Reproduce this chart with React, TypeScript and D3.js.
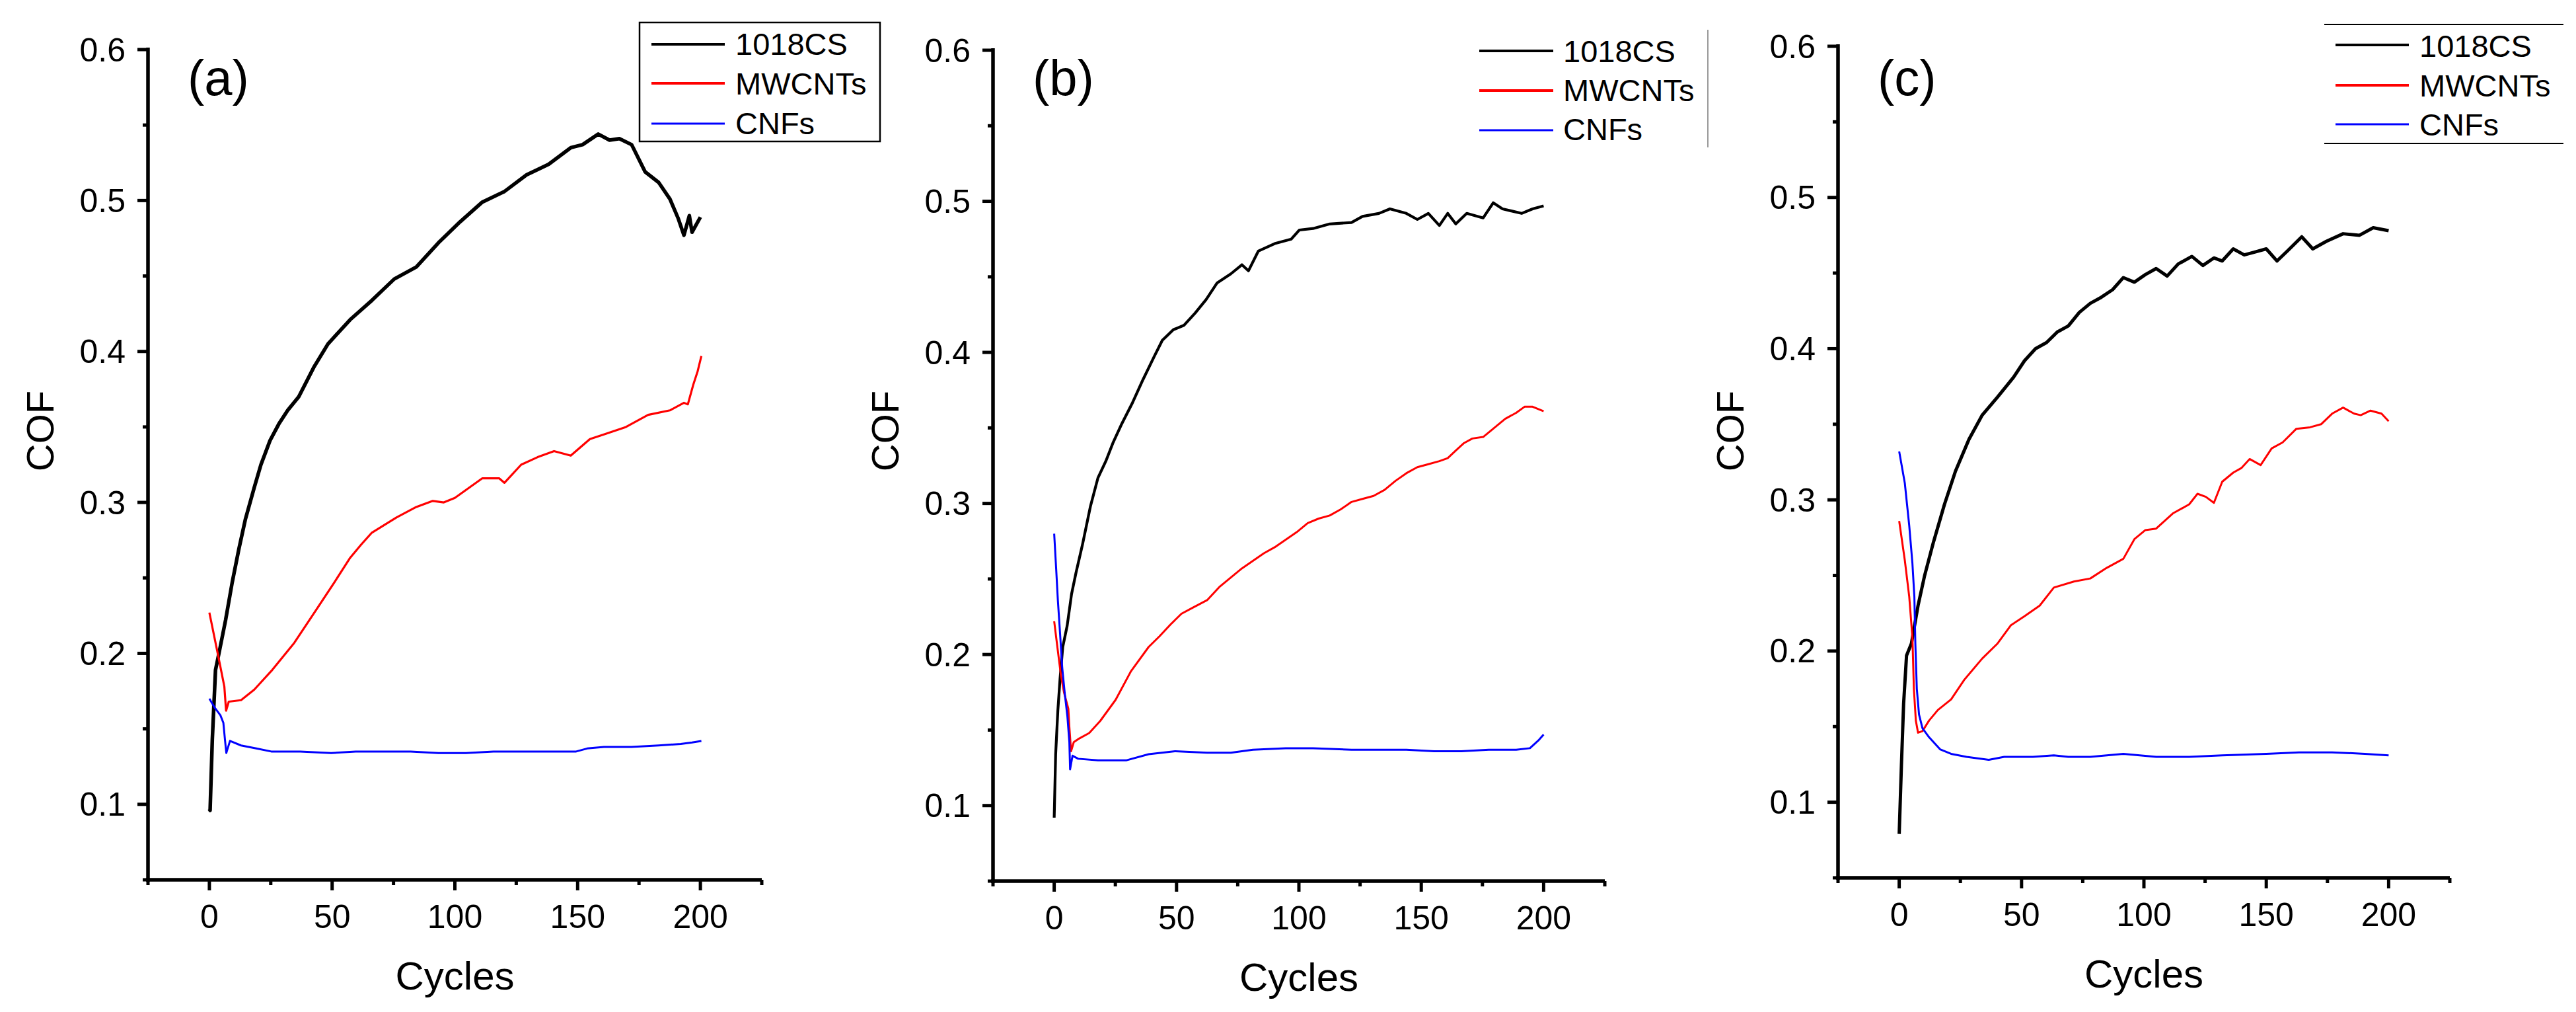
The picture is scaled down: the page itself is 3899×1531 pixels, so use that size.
import React from 'react';
import * as d3 from 'd3';

// ---------- DATA ----------
const seriesNames = ['1018CS', 'MWCNTs', 'CNFs'];
const seriesColors = ['#000000', '#ff0000', '#0000ff'];
const panelLabels = ['(a)', '(b)', '(c)'];
const xTicksMajor = [0, 50, 100, 150, 200];
const xTicksMinor = [-25, 25, 75, 125, 175, 225];
const yTicksMajor = [0.1, 0.2, 0.3, 0.4, 0.5, 0.6];
const yTicksMinor = [0.05, 0.15, 0.25, 0.35, 0.45, 0.55];
const xDomain = [-25, 225];
const yDomain = [0.05, 0.6];

// Panel (a)
const a1018CS: [number, number][] = [
  [0, 0.097], [0.3, 0.096], [1.2, 0.143], [2.5, 0.189], [3.9, 0.2], [6.6, 0.222], [9.3, 0.247],
  [12, 0.269], [14.7, 0.289], [18.3, 0.31], [21, 0.325], [24.7, 0.341], [28.3, 0.352], [31.9, 0.361],
  [36.4, 0.37], [42.7, 0.39], [48.3, 0.405], [57.3, 0.421], [66.3, 0.434], [75.3, 0.448], [84.3, 0.456],
  [93.3, 0.472], [102.2, 0.486], [111.2, 0.499], [120.2, 0.506], [129.2, 0.517], [138.2, 0.524],
  [147.2, 0.535], [152, 0.537], [158.4, 0.544], [163, 0.54], [167, 0.541], [172, 0.537], [177.5, 0.519],
  [183, 0.512], [187.6, 0.501], [191, 0.488], [193.3, 0.477], [195.5, 0.49], [196.6, 0.479], [200, 0.489],
];
const aMWCNTs: [number, number][] = [
  [0, 0.227], [3.4, 0.2], [6.1, 0.178], [6.8, 0.162], [7.9, 0.168], [12.9, 0.169], [18.3, 0.176],
  [25.6, 0.189], [34.6, 0.207], [43.6, 0.229], [50.9, 0.247], [57.2, 0.263], [61.8, 0.272],
  [66.2, 0.28], [76.2, 0.29], [84.3, 0.297], [91, 0.301], [95.5, 0.3], [100, 0.303], [111.2, 0.316],
  [118, 0.316], [120.2, 0.313], [127, 0.325], [133.7, 0.33], [140.4, 0.334], [147.2, 0.331],
  [155, 0.342], [160.7, 0.345], [169.7, 0.35], [178.7, 0.358], [187.6, 0.361], [193.3, 0.366],
  [194.9, 0.365], [197.1, 0.378], [198.9, 0.387], [200.4, 0.397],
];
const aCNFs: [number, number][] = [
  [0, 0.17], [2.2, 0.164], [4.5, 0.159], [5.7, 0.154], [6.4, 0.142], [6.9, 0.134], [8.4, 0.142],
  [12.9, 0.139], [19.1, 0.137], [25.2, 0.135], [37, 0.135], [49.6, 0.134], [59.6, 0.135],
  [70.8, 0.135], [82, 0.135], [93.3, 0.134], [104.5, 0.134], [115.7, 0.135], [127, 0.135],
  [138, 0.135], [149.4, 0.135], [153.9, 0.137], [160.7, 0.138], [171.9, 0.138], [183, 0.139],
  [192, 0.14], [196.6, 0.141], [200.4, 0.142],
];

// Panel (b)
const b1018CS: [number, number][] = [
  [0, 0.092], [0.6, 0.134], [1.5, 0.163], [2.4, 0.184], [3.5, 0.205], [5.3, 0.219], [7.1, 0.24],
  [8.9, 0.254], [11.6, 0.273], [14.8, 0.298], [17.9, 0.317], [21.1, 0.328], [24, 0.34], [27.4, 0.352],
  [31.8, 0.366], [36.3, 0.382], [40.8, 0.397], [44.2, 0.408], [48.7, 0.415], [53.1, 0.418],
  [57.6, 0.426], [62.1, 0.435], [66.6, 0.446], [72.2, 0.452], [76.7, 0.458], [79.4, 0.454],
  [83.4, 0.467], [90.1, 0.472], [96.9, 0.475], [100.2, 0.481], [105.8, 0.482], [112.6, 0.485],
  [121.5, 0.486], [126, 0.49], [132.7, 0.492], [137.2, 0.495], [143.9, 0.492], [148.4, 0.488],
  [152.9, 0.492], [157.4, 0.484], [160.8, 0.492], [164.1, 0.485], [168.6, 0.492], [175.3, 0.489],
  [179.4, 0.499], [183.2, 0.495], [191, 0.492], [195.5, 0.495], [200, 0.497],
];
const bMWCNTs: [number, number][] = [
  [0, 0.222], [1.3, 0.205], [2.7, 0.187], [4, 0.175], [5.8, 0.164], [6.2, 0.152], [6.9, 0.136],
  [8, 0.142], [9.8, 0.144], [14.3, 0.148], [18.8, 0.156], [25.1, 0.17], [31.4, 0.189],
  [38.6, 0.205], [43, 0.212], [47.6, 0.22], [52, 0.227], [56.6, 0.231], [62.5, 0.236],
  [67.7, 0.245], [72.2, 0.251], [76.7, 0.257], [81.2, 0.262], [85.7, 0.267], [90.1, 0.271],
  [94.6, 0.276], [99.1, 0.281], [103.6, 0.287], [108.1, 0.29], [112.6, 0.292], [117, 0.296],
  [121.5, 0.301], [126, 0.303], [130.5, 0.305], [135, 0.309], [139.5, 0.315], [143.9, 0.32],
  [148.4, 0.324], [152.9, 0.326], [157.4, 0.328], [160.8, 0.33], [164.1, 0.335], [167.5, 0.34],
  [170.9, 0.343], [175.3, 0.344], [179.8, 0.35], [184.3, 0.356], [188.8, 0.36], [192.2, 0.364],
  [195.5, 0.364], [200, 0.361],
];
const bCNFs: [number, number][] = [
  [0, 0.28], [0.8, 0.257], [1.5, 0.236], [2.4, 0.214], [3.3, 0.191], [4.4, 0.173], [5.4, 0.159],
  [6.2, 0.142], [6.5, 0.124], [7.5, 0.133], [9.8, 0.131], [17.9, 0.13], [29.6, 0.13], [38.6, 0.134],
  [49.4, 0.136], [62.5, 0.135], [72.2, 0.135], [81.2, 0.137], [94.6, 0.138], [105.8, 0.138],
  [121.5, 0.137], [143.9, 0.137], [155.2, 0.136], [166.4, 0.136], [177.6, 0.137], [188.8, 0.137],
  [194.4, 0.138], [197.8, 0.143], [200, 0.147],
];

// Panel (c)
const c1018CS: [number, number][] = [
  [0, 0.079], [0.9, 0.124], [1.8, 0.165], [3, 0.197], [5, 0.205], [7.7, 0.23], [10.4, 0.25],
  [14, 0.272], [18.5, 0.297], [23, 0.319], [28.5, 0.34], [33.9, 0.356], [40.2, 0.368], [46.7, 0.381],
  [51.2, 0.392], [55.7, 0.4], [60.2, 0.404], [64.6, 0.411], [69.1, 0.415], [73.6, 0.424],
  [78.1, 0.43], [82.6, 0.434], [87.2, 0.439], [91.6, 0.447], [96.1, 0.444], [100.6, 0.449],
  [105, 0.453], [109.5, 0.448], [114, 0.456], [119.6, 0.461], [124.1, 0.455], [128.6, 0.46],
  [132, 0.458], [136.5, 0.466], [141, 0.462], [145.5, 0.464], [150, 0.466], [154.4, 0.458],
  [158.9, 0.465], [164.5, 0.474], [169, 0.466], [174.6, 0.471], [181.4, 0.476], [188.1, 0.475],
  [193.7, 0.48], [200, 0.478],
];
const cMWCNTs: [number, number][] = [
  [0, 0.286], [2.3, 0.26], [4.1, 0.236], [5.4, 0.209], [6, 0.175], [6.8, 0.154], [7.7, 0.146],
  [9.5, 0.147], [12.2, 0.154], [15.8, 0.161], [21.2, 0.168], [26.6, 0.181], [33.9, 0.195],
  [40.2, 0.205], [45.6, 0.217], [51.2, 0.223], [57.4, 0.23], [63.2, 0.242], [71.4, 0.246],
  [78.1, 0.248], [84.8, 0.255], [91.6, 0.261], [96.1, 0.274], [100.6, 0.28], [105, 0.281],
  [111.8, 0.291], [118.5, 0.297], [121.9, 0.304], [125.3, 0.302], [128.6, 0.298], [132, 0.312],
  [136.5, 0.318], [139.8, 0.321], [143.2, 0.327], [147.7, 0.323], [152.2, 0.334], [156.7, 0.338],
  [162.3, 0.347], [167.9, 0.348], [172.4, 0.35], [176.9, 0.357], [181.4, 0.361], [185.9, 0.357],
  [188.6, 0.356], [192.6, 0.359], [197.1, 0.357], [200, 0.352],
];
const cCNFs: [number, number][] = [
  [0, 0.332], [2.3, 0.311], [4.1, 0.283], [5.4, 0.258], [6.2, 0.236], [6.6, 0.205], [7.2, 0.175],
  [8.1, 0.158], [9.5, 0.149], [12.2, 0.143], [16.7, 0.135], [21.2, 0.132], [27.5, 0.13],
  [36.6, 0.128], [42.9, 0.13], [54.6, 0.13], [63.2, 0.131], [69.1, 0.13], [78.1, 0.13],
  [91.6, 0.132], [105, 0.13], [118.5, 0.13], [132, 0.131], [150, 0.132], [163.4, 0.133],
  [176.9, 0.133], [190.3, 0.132], [200, 0.131],
];

const panelData = [
  [a1018CS, aMWCNTs, aCNFs],
  [b1018CS, bMWCNTs, bCNFs],
  [c1018CS, cMWCNTs, cCNFs],
];

// ---------- LAYOUT ----------
const W = 3899;
const H = 1531;
const FONT = "'Liberation Sans', Arial, Helvetica, sans-serif";

const panels = [
  { left: 224, right: 1153, top: 75, bottom: 1331, widths: [5.5, 3.2, 3], legend: 'box', lx1: 986, lx2: 1097, tx: 1113, ly: [67, 126, 187], ty: [83, 143, 203] },
  { left: 1503, right: 2429, top: 76, bottom: 1333, widths: [4.2, 3, 3], legend: 'vline', lx1: 2239, lx2: 2351, tx: 2366, ly: [77, 137, 197], ty: [94, 153, 212] },
  { left: 2782, right: 3708, top: 70, bottom: 1328, widths: [5, 3, 3], legend: 'hlines', lx1: 3535, lx2: 3646, tx: 3662, ly: [68, 129, 188], ty: [86, 146, 205] },
];

function Panel({ idx }: { idx: number }) {
  const p = panels[idx];
  const x = d3.scaleLinear().domain(xDomain).range([p.left, p.right]);
  const y = d3.scaleLinear().domain(yDomain).range([p.bottom, p.top]);
  const line = d3
    .line<[number, number]>()
    .x((d) => x(d[0]))
    .y((d) => y(d[1]));
  const axisW = 5.5;
  const majorLen = 16;
  const minorLen = 8;
  const cx = (p.left + p.right) / 2;
  return (
    <g>
      {panelData[idx].map((s, i) => (
        <path
          key={i}
          d={line(s) || ''}
          fill="none"
          stroke={seriesColors[i]}
          strokeWidth={p.widths[i]}
          strokeLinejoin="round"
          strokeLinecap="butt"
        />
      ))}
      <line x1={p.left} x2={p.left} y1={p.top - 3} y2={p.bottom + axisW / 2} stroke="#000" strokeWidth={axisW} />
      <line x1={p.left - axisW / 2} x2={p.right} y1={p.bottom} y2={p.bottom} stroke="#000" strokeWidth={axisW} />
      {yTicksMajor.map((t) => (
        <g key={'ym' + t}>
          <line x1={p.left - majorLen} x2={p.left} y1={y(t)} y2={y(t)} stroke="#000" strokeWidth={5} />
          <text x={p.left - 34} y={y(t)} dy="0.35em" textAnchor="end" fontSize={50} fontFamily={FONT} fill="#000">
            {t.toFixed(1)}
          </text>
        </g>
      ))}
      {yTicksMinor.map((t) => (
        <line key={'yn' + t} x1={p.left - minorLen} x2={p.left} y1={y(t)} y2={y(t)} stroke="#000" strokeWidth={5} />
      ))}
      {xTicksMajor.map((t) => (
        <g key={'xm' + t}>
          <line x1={x(t)} x2={x(t)} y1={p.bottom} y2={p.bottom + majorLen} stroke="#000" strokeWidth={5} />
          <text x={x(t)} y={p.bottom + 73} textAnchor="middle" fontSize={50} fontFamily={FONT} fill="#000">
            {t}
          </text>
        </g>
      ))}
      {xTicksMinor.map((t) => (
        <line key={'xn' + t} x1={x(t)} x2={x(t)} y1={p.bottom} y2={p.bottom + minorLen} stroke="#000" strokeWidth={5} />
      ))}
      <text x={cx} y={p.bottom + 166} textAnchor="middle" fontSize={60} fontFamily={FONT} fill="#000">
        Cycles
      </text>
      <text
        transform={`translate(${p.left - 143},652) rotate(-90)`}
        textAnchor="middle"
        fontSize={58}
        fontFamily={FONT}
        fill="#000"
      >
        COF
      </text>
      <text x={p.left + 60} y={144} fontSize={76} fontFamily={FONT} fill="#000">
        {panelLabels[idx]}
      </text>
      {p.legend === 'box' && (
        <rect x={968} y={34} width={364} height={180} fill="none" stroke="#000" strokeWidth={2.5} />
      )}
      {p.legend === 'vline' && <line x1={2585} x2={2585} y1={45} y2={223} stroke="#999" strokeWidth={2} />}
      {p.legend === 'hlines' && (
        <g>
          <line x1={3518} x2={3880} y1={37} y2={37} stroke="#000" strokeWidth={2} />
          <line x1={3518} x2={3880} y1={217} y2={217} stroke="#000" strokeWidth={2} />
        </g>
      )}
      {seriesNames.map((n, i) => (
        <g key={'lg' + i}>
          <line x1={p.lx1} x2={p.lx2} y1={p.ly[i]} y2={p.ly[i]} stroke={seriesColors[i]} strokeWidth={i === 2 ? 3 : 4} />
          <text x={p.tx} y={p.ty[i]} fontSize={47} fontFamily={FONT} fill="#000">
            {n}
          </text>
        </g>
      ))}
    </g>
  );
}

export default function App() {
  return (
    <svg
      width={W}
      height={H}
      viewBox={`0 0 ${W} ${H}`}
      style={{ position: 'absolute', left: 0, top: 0, background: '#fff' }}
    >
      <rect x={0} y={0} width={W} height={H} fill="#fff" />
      {panels.map((_, i) => (
        <Panel key={i} idx={i} />
      ))}
    </svg>
  );
}
